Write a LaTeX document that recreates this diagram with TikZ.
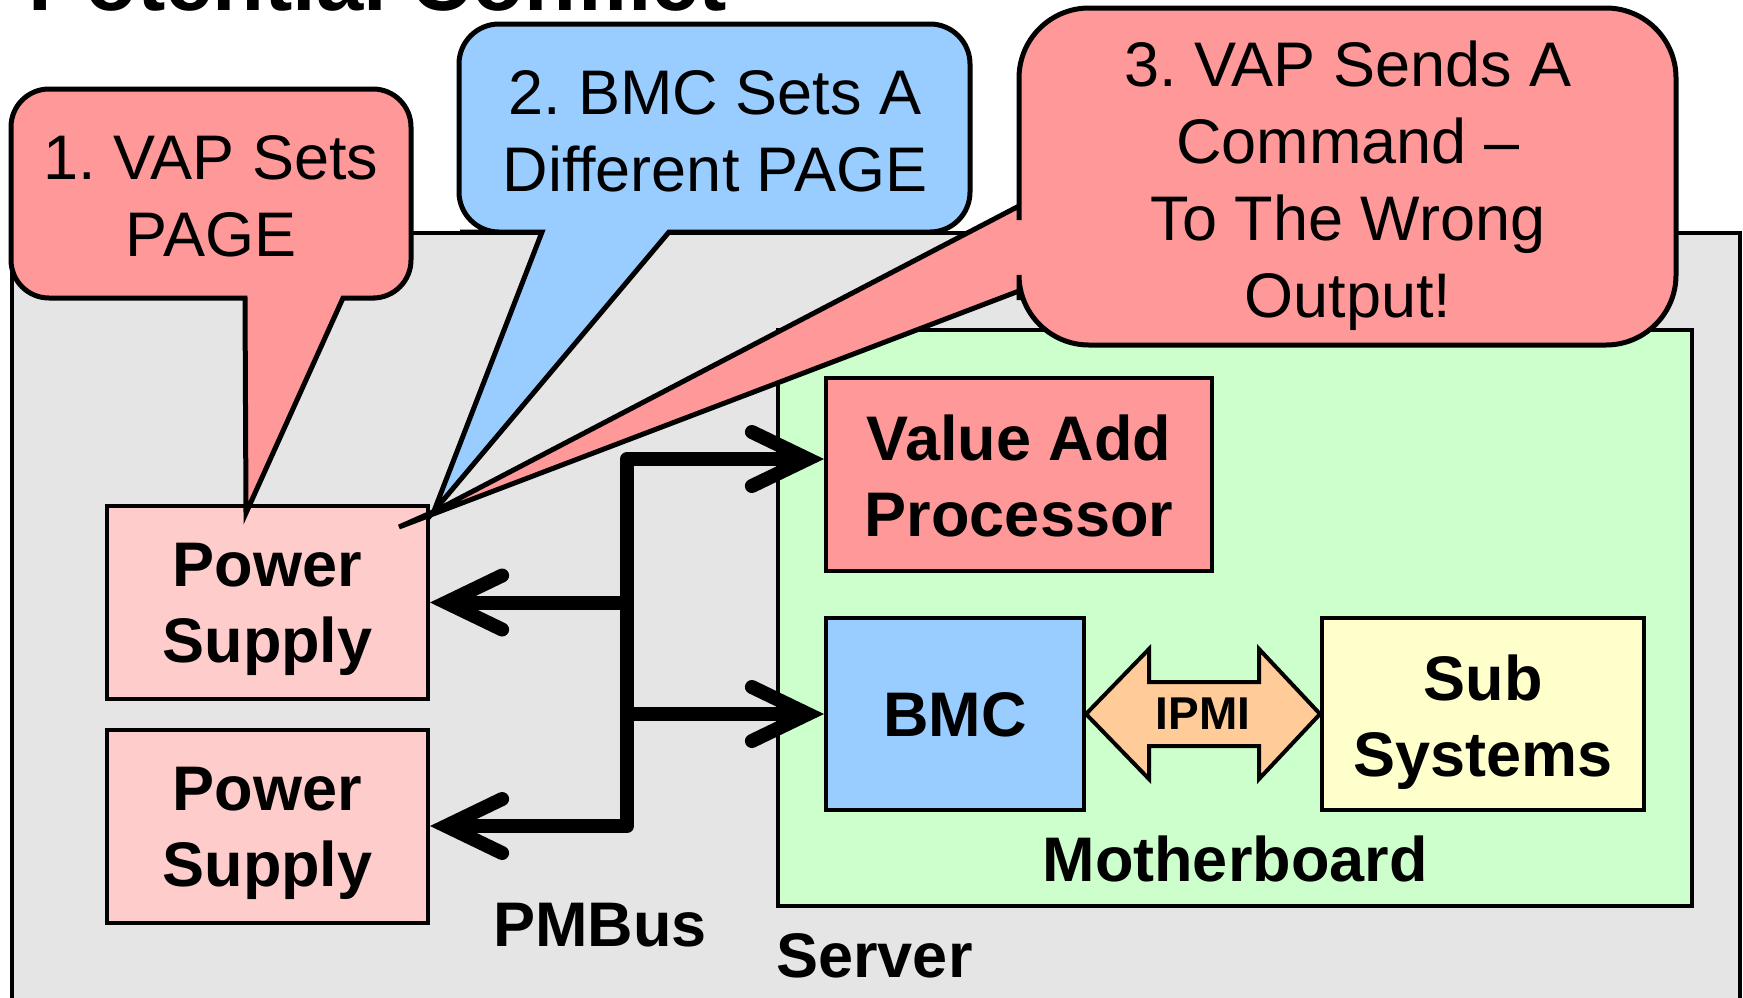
\documentclass[tikz,border=0pt]{standalone}
\usepackage{fontspec}
\setmainfont{Liberation Sans}
\usetikzlibrary{arrows.meta,fit,calc}
\definecolor{srvgray}{HTML}{E5E5E5}
\definecolor{mbgreen}{HTML}{CCFFCC}
\definecolor{vapred}{HTML}{FF9999}
\definecolor{bmcblue}{HTML}{99CCFF}
\definecolor{subyellow}{HTML}{FFFFCC}
\definecolor{pspink}{HTML}{FFCCCC}
\definecolor{ipmiorange}{HTML}{FFCC99}
\begin{document}
\begin{tikzpicture}[x=0.5pt,y=-0.5pt,
  container/.style={draw=black, line width=2pt, inner sep=0pt},
  block/.style={draw=black, line width=2pt, inner sep=0pt},
  blocktext/.style={inner sep=0pt, align=center,
    font=\fontsize{31.5pt}{38pt}\selectfont\bfseries},
  calloutshape/.style={draw=black, line width=2.5pt, line join=miter},
  callouttext/.style={align=center, inner sep=0pt,
    font=\fontsize{31.5pt}{38.5pt}\selectfont\frenchspacing},
  bus/.style={line width=7pt, line join=round},
  busbarb/.tip={Straight Barb[length=28pt,width=27pt,line cap=round,line join=miter]},
  lbl/.style={inner sep=0pt, font=\fontsize{31.5pt}{38pt}\selectfont\bfseries},
]
\useasboundingbox (0,0) rectangle (1743,997);
\clip (0,0) rectangle (1743,997);

% title (cut off at the top, as in the reference)
\node[anchor=base west, inner sep=0pt, font=\fontsize{42.5pt}{42.5pt}\selectfont\bfseries]
  (title) at (28,10) {Potential Conflict};

% containers
\node[container, fill=srvgray, fit={(12,233) (1740,1030)}] (server) {};
\node[container, fill=mbgreen, fit={(778,330) (1692,906)}] (mb) {};

% blocks
\node[block, fill=pspink, fit={(107,506) (428,699)}] (ps1) {};
\node[blocktext] (ps1t) at ($(ps1.center)+(0,7)$) {Power\\Supply};
\node[block, fill=pspink, fit={(107,730) (428,923)}] (ps2) {};
\node[blocktext] (ps2t) at ($(ps2.center)+(0,7)$) {Power\\Supply};
\node[block, fill=vapred, fit={(826,378) (1212,571)}] (vap) {};
\node[blocktext] (vapt) at ($(vap.center)+(0,1)$) {Value Add\\Processor};
\node[block, fill=bmcblue, fit={(826,618) (1084,810)}] (bmc) {};
\node[blocktext] (bmct) at ($(bmc.center)+(0,1)$) {BMC};
\node[block, fill=subyellow, fit={(1322,618) (1644,810)}] (sub) {};
\node[blocktext] (subt) at ($(sub.center)+(0,8)$) {Sub\\Systems};

% labels
\node[lbl, anchor=base] (pmbus) at (600,946) {PMBus};
\node[lbl, anchor=base west] (serverlbl) at (776,977) {Server};
\node[lbl, anchor=base] (mblbl) at (1235,881) {Motherboard};

% PMBus wiring
\coordinate (jt) at (627,459);
\coordinate (jb) at (627,826);
\draw[bus, {busbarb}-{busbarb}] (jt -| vap.west) -- (jt) -- (jb) -- (jb -| ps2.east);
\draw[bus, -{busbarb}] (jt |- ps1.east) -- (ps1.east);
\draw[bus, -{busbarb}] (jt |- bmc.west) -- (bmc.west);

% IPMI double arrow
\draw[draw=black, line width=2pt, line join=miter, fill=ipmiorange]
  (bmc.east) -- ++(63,-65) -- ++(0,33) -- ++(110,0) -- ++(0,-33) -- (sub.west)
  -- ++(-61,65) -- ++(0,-33) -- ++(-110,0) -- ++(0,33) -- cycle;
\node[inner sep=0pt, font=\fontsize{23pt}{23pt}\selectfont\bfseries]
  (ipmi) at ($(bmc.east)!0.5!(sub.west)$) {IPMI};

% callout 1
\draw[calloutshape, fill=vapred]
  (150,298) [sharp corners] -- (245,298) -- (246,513) -- (343,298) -- (375,298)
  [rounded corners=19pt] -- (411,298) -- (411,89) -- (11,89) -- (11,298) -- cycle;
\node[callouttext] (c1text) at (211,196) {1. VAP Sets\\PAGE};

% callout 2
\draw[calloutshape, fill=bmcblue]
  (500,232) [sharp corners] -- (542,232) -- (434,511) -- (669,232) -- (700,232)
  [rounded corners=20pt] -- (970,232) -- (970,24) -- (459,24) -- (459,232) -- cycle;
\node[callouttext] (c2text) at (715,131) {2. BMC Sets A\\Different PAGE};

% callout 3
\draw[calloutshape, fill=vapred]
  (1019,150) [sharp corners] -- (1019,206) -- (435,511) -- (399,527) -- (1019,291) -- (1019,300)
  [rounded corners=35pt] -- (1019,345) -- (1676,345) -- (1676,8) -- (1019,8) -- cycle;
\node[callouttext] (c3text) at (1348,186) {3. VAP Sends A\\Command –\\To The Wrong\\Output!};
\end{tikzpicture}
\end{document}
